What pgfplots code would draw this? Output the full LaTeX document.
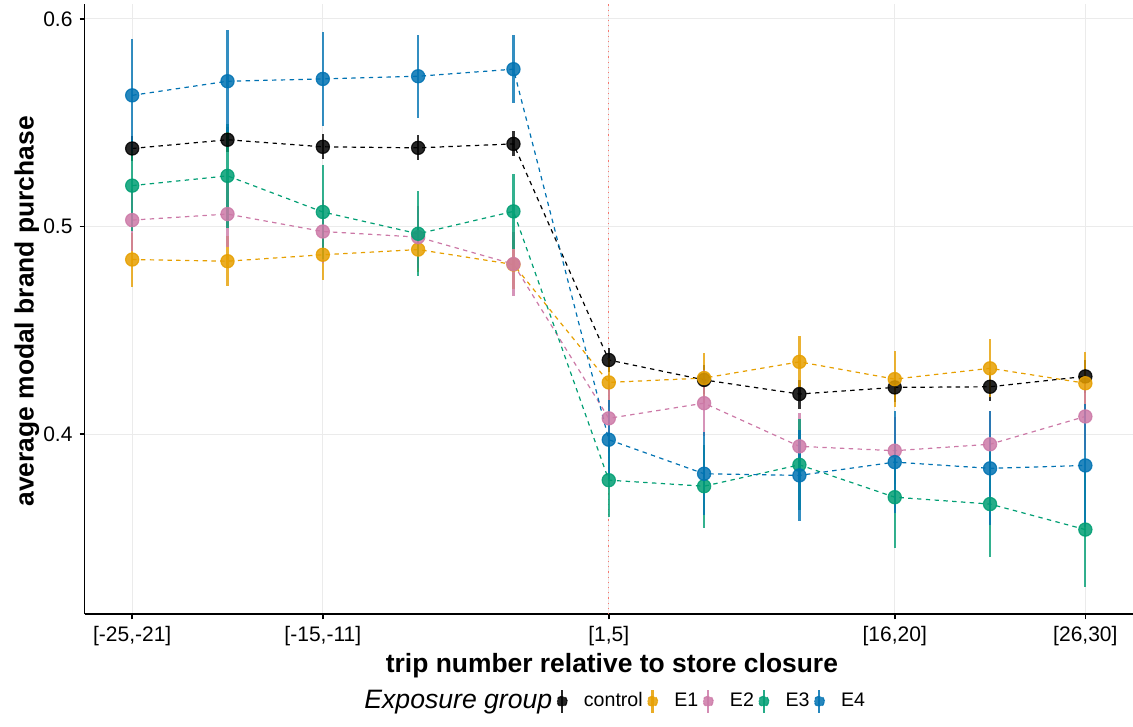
\documentclass[border=0pt]{standalone}
\usepackage{fontspec}
\setmainfont{Liberation Sans}
\usepackage{pgfplots}
\pgfplotsset{compat=1.18}
\usepackage{pgfplotstable}

\definecolor{cC}{HTML}{000000}
\definecolor{cEa}{HTML}{E69F00}
\definecolor{cEb}{HTML}{CC79A7}
\definecolor{cEc}{HTML}{009E73}
\definecolor{cEd}{HTML}{0072B2}
\definecolor{gridc}{HTML}{EBEBEB}
\definecolor{vline}{HTML}{F8766D}

\pgfplotstableread{
x y e
0 0.5376 0.006
1 0.5418 0.006
2 0.5384 0.006
3 0.5379 0.006
4 0.5398 0.006
5 0.4357 0.006
6 0.4261 0.007
7 0.4193 0.007
8 0.4225 0.007
9 0.4228 0.007
10 0.4278 0.008
}\ctrl
\pgfplotstableread{
x y e
0 0.4841 0.013
1 0.4833 0.012
2 0.4864 0.012
3 0.4889 0.011
4 0.4817 0.012
5 0.4249 0.012
6 0.4270 0.012
7 0.4348 0.0125
8 0.4265 0.0135
9 0.4317 0.014
10 0.4245 0.015
}\Ea
\pgfplotstableread{
x y e
0 0.5031 0.015
1 0.5060 0.016
2 0.4976 0.015
3 0.4949 0.015
4 0.4819 0.0155
5 0.4076 0.016
6 0.4149 0.016
7 0.3941 0.016
8 0.3920 0.016
9 0.3951 0.016
10 0.4085 0.016
}\Eb
\pgfplotstableread{
x y e
0 0.5197 0.022
1 0.5244 0.025
2 0.5070 0.0227
3 0.4965 0.0205
4 0.5073 0.018
5 0.3778 0.0175
6 0.3749 0.020
7 0.3852 0.022
8 0.3696 0.0246
9 0.3663 0.0256
10 0.3540 0.0275
}\Ec
\pgfplotstableread{
x y e
0 0.5632 0.027
1 0.5700 0.0246
2 0.5711 0.0227
3 0.5724 0.020
4 0.5758 0.0165
5 0.3973 0.019
6 0.3809 0.020
7 0.3801 0.022
8 0.3865 0.0246
9 0.3835 0.0275
10 0.3849 0.0295
}\Ed

\pgfplotsset{
  grp/.style={
    color=#1, line width=0.6pt, dash pattern=on 2.2pt off 2.2pt,
    mark=*, mark size=3.3pt,
    mark options={solid, fill=#1, draw=#1, fill opacity=0.85, draw opacity=0.85},
    error bars/.cd, y dir=both, y explicit, error mark=none,
    error bar style={solid, line width=1.1pt, #1, opacity=0.8},
    /pgfplots/.cd,
    legend image code/.code={
      \draw[#1, solid, line width=1.1pt, opacity=0.85] (0.12cm,-0.2cm) -- (0.12cm,0.2cm);
      \fill[#1, opacity=0.85] (0.12cm,0cm) circle (2.6pt);
    },
  },
}

\begin{document}
\begin{tikzpicture}
\begin{axis}[
  scale only axis, width=524pt, height=305.2pt,
  at={(0,0)}, anchor=south west,
  xmin=-0.5, xmax=10.5, ymin=0.3132, ymax=0.6074,
  xtick={0,2,5,8,10},
  xticklabels={{[-25,-21]},{[-15,-11]},{[1,5]},{[16,20]},{[26,30]}},
  ytick={0.4,0.5,0.6}, yticklabels={0.4,0.5,0.6},
  axis x line*=bottom, axis y line*=left,
  axis line style={line width=0.8pt, -},
  tick style={black, line width=0.8pt}, tick align=outside, major tick length=2.5pt,
  grid=major, major grid style={gridc, line width=0.5pt},
  ticklabel style={font=\fontsize{10.5}{12}\selectfont},
  xlabel={trip number relative to store closure},
  ylabel={average modal brand purchase},
  label style={font=\bfseries\fontsize{13.2}{15}\selectfont},
  xlabel style={at={(axis description cs:0.503,-0.0836)}, anchor=center},
  ylabel style={at={(axis description cs:-0.0549,0.496)}, anchor=center},
  legend columns=-1,
  legend style={draw=none, fill=none, at={(0.5,-0.1425)}, anchor=center,
    font=\fontsize{9.8}{11}\selectfont,
    /tikz/every even column/.append style={column sep=0pt},
    /tikz/every odd column/.append style={column sep=6pt}},
]
\addplot[forget plot, vline, dotted, line width=0.6pt] coordinates {(5,0.3132) (5,0.6074)};
\addlegendimage{empty legend}
\addlegendentry{\fontsize{13.3}{15}\selectfont\itshape Exposure group}
\addplot[grp=cC] table[x=x, y=y, y error=e] {\ctrl};
\addlegendentry{control}
\addplot[grp=cEa] table[x=x, y=y, y error=e] {\Ea};
\addlegendentry{E1}
\addplot[grp=cEb] table[x=x, y=y, y error=e] {\Eb};
\addlegendentry{E2}
\addplot[grp=cEc] table[x=x, y=y, y error=e] {\Ec};
\addlegendentry{E3}
\addplot[grp=cEd] table[x=x, y=y, y error=e] {\Ed};
\addlegendentry{E4}
\end{axis}
\pgfresetboundingbox
\path (-42.25pt,-56pt) rectangle (524pt,307pt);
\end{tikzpicture}
\end{document}
